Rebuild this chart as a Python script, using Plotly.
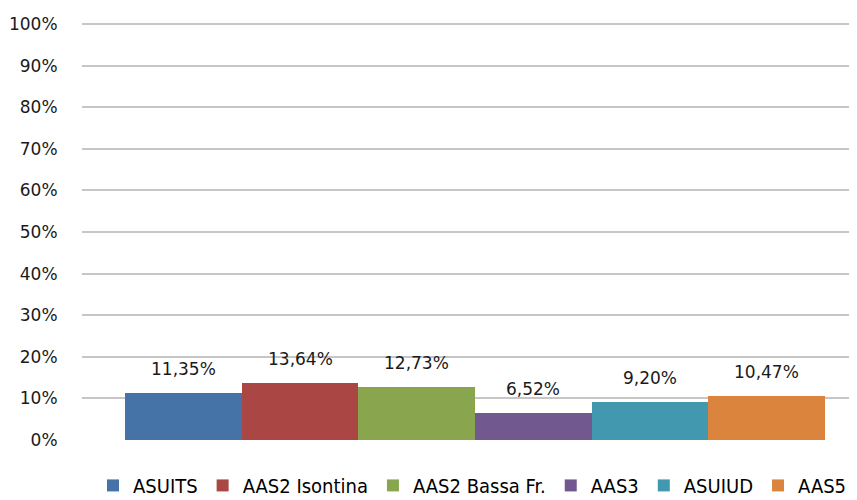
import plotly.graph_objects as go

categories = ["ASUITS", "AAS2 Isontina", "AAS2 Bassa Fr.", "AAS3", "ASUIUD", "AAS5"]
values = [11.35, 13.64, 12.73, 6.52, 9.20, 10.47]
colors = ["#4572a7", "#aa4643", "#89a54e", "#71588f", "#4198af", "#db843d"]
tick_vals = [0, 10, 20, 30, 40, 50, 60, 70, 80, 90, 100]
tick_text = [f"{t}%" for t in tick_vals]

fig = go.Figure()
for name, v, c in zip(categories, values, colors):
    fig.add_trace(go.Bar(x=[name], y=[v], name=name, marker=dict(color=c, line=dict(width=0)),
                         hoverinfo="skip"))

annotations = []
for name, v in zip(categories, values):
    annotations.append(dict(x=name, y=v, xref="x", yref="y",
                            text=f"{v:.2f}%".replace(".", ","),
                            showarrow=False, yanchor="middle", yshift=24,
                            font=dict(family="DejaVu Sans", size=17, color="#1a1a1a")))

fig.update_layout(
    width=857, height=500,
    margin=dict(l=74, r=2, t=14, b=68, autoexpand=False),
    paper_bgcolor="white", plot_bgcolor="white",
    barmode="stack", bargap=0,
    showlegend=True,
    legend=dict(orientation="h", x=0.5, xanchor="center", traceorder="normal",
                y=-0.062, yanchor="top",
                font=dict(family="DejaVu Sans Condensed, sans-serif", size=20, color="#000000"),
                tracegroupgap=0, itemwidth=30),
    annotations=annotations,
    xaxis=dict(range=[-0.8686, 5.8254], showticklabels=False, showgrid=False, zeroline=False,
               showline=False, ticks="", fixedrange=True),
    yaxis=dict(range=[0, 100.5], tickmode="array", tickvals=tick_vals, ticktext=tick_text,
               showgrid=True, gridcolor="#c6c6c6", gridwidth=2, zeroline=False,
               showline=False, ticks="outside", ticklen=20, tickcolor="white",
               tickfont=dict(family="DejaVu Sans", size=17, color="#1a1a1a")),
)

fig.write_html("out.html")
